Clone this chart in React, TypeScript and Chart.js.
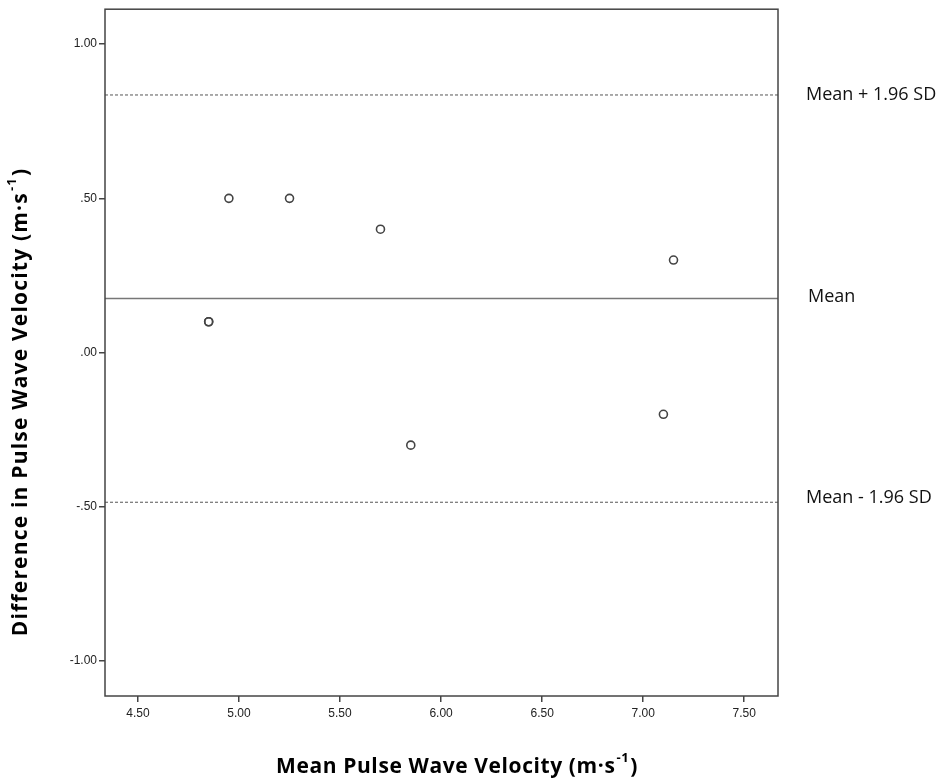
import React, { useEffect, useRef } from "react";
import { Chart, registerables } from "chart.js";

Chart.register(...registerables);

const meanPWV = [4.85, 4.85, 4.95, 5.25, 5.7, 5.85, 7.1, 7.15];
const diffPWV = [0.1, 0.1, 0.5, 0.5, 0.4, -0.3, -0.2, 0.3];
const meanDiff = 0.175;
const upperLoA = 0.835;
const lowerLoA = -0.485;
const xTicks = [4.5, 5.0, 5.5, 6.0, 6.5, 7.0, 7.5];
const yTicks = [-1.0, -0.5, 0.0, 0.5, 1.0];
const xRange = [4.337, 7.667];
const yRange = [-1.113, 1.113];
const refLabels = ["Mean + 1.96 SD", "Mean", "Mean - 1.96 SD"];
const xTitle = ["Mean Pulse Wave Velocity (m·s", "-1", ")"];
const yTitle = ["Difference in Pulse Wave Velocity (m·s", "-1", ")"];

function fmtY(v: number) {
  const s = Math.abs(v).toFixed(2).replace(/^0/, "");
  return (v < 0 ? "-" : "") + s;
}

function drawRich(ctx: CanvasRenderingContext2D, parts: string[], cx: number, cy: number, size: number, family: string, spacing: number) {
  const main = `bold ${size}px ${family}`;
  const sup = `bold ${Math.round(size * 0.62)}px ${family}`;
  (ctx as any).letterSpacing = spacing + "px";
  ctx.font = main;
  const w0 = ctx.measureText(parts[0]).width;
  const w2 = ctx.measureText(parts[2]).width;
  ctx.font = sup;
  const w1 = ctx.measureText(parts[1]).width;
  const total = w0 + w1 + w2 + 2;
  let x = cx - total / 2;
  ctx.textBaseline = "middle";
  ctx.textAlign = "left";
  ctx.font = main;
  ctx.fillText(parts[0], x, cy);
  x += w0;
  ctx.font = sup;
  ctx.fillText(parts[1], x + 1, cy - size * 0.4);
  x += w1 + 2;
  ctx.font = main;
  ctx.fillText(parts[2], x, cy);
  (ctx as any).letterSpacing = "0px";
}

const decorPlugin = {
  id: "decor",
  afterDraw(chart: any) {
    const { ctx, chartArea, scales } = chart;
    ctx.save();
    ctx.strokeStyle = "#444";
    ctx.lineWidth = 1.5;
    ctx.strokeRect(chartArea.left, chartArea.top, chartArea.right - chartArea.left, chartArea.bottom - chartArea.top);

    ctx.fillStyle = "#111";
    ctx.font = "18px 'Open Sans'";
    ctx.textAlign = "left";
    ctx.textBaseline = "middle";
    const ys = [upperLoA, meanDiff, lowerLoA];
    const xs = [806, 808, 806];
    const off = [0, -2, -4];
    ys.forEach((v, i) => {
      ctx.fillText(refLabels[i], xs[i], scales.y.getPixelForValue(v) + off[i]);
    });

    ctx.fillStyle = "#000";
    drawRich(ctx, xTitle, 457, 767, 21, "'Open Sans'", 0.6);
    ctx.save();
    ctx.translate(21, 402);
    ctx.rotate(-Math.PI / 2);
    drawRich(ctx, yTitle, 0, 0, 21, "'Open Sans'", 1.2);
    ctx.restore();
    ctx.restore();
  },
};

export default function App() {
  const ref = useRef<HTMLCanvasElement | null>(null);
  useEffect(() => {
    if (!ref.current) return;
    const line = (v: number, dash: number[], color: string, width: number) => ({
      type: "scatter" as const,
      data: [
        { x: xRange[0], y: v },
        { x: xRange[1], y: v },
      ],
      showLine: true,
      borderColor: color,
      borderWidth: width,
      borderDash: dash,
      pointRadius: 0,
      fill: false,
    });
    const chart = new Chart(ref.current, {
      type: "scatter",
      data: {
        datasets: [
          {
            data: meanPWV.map((x, i) => ({ x, y: diffPWV[i] })),
            pointRadius: 4,
            pointBorderWidth: 1.6,
            pointBorderColor: "#444",
            pointBackgroundColor: "rgba(255,255,255,0)",
          },
          line(upperLoA, [3, 2], "#555", 1),
          line(meanDiff, [], "#777", 1.5),
          line(lowerLoA, [3, 2], "#555", 1),
        ] as any,
      },
      options: {
        animation: false,
        responsive: false,
        devicePixelRatio: 1,
        layout: { padding: { top: 7, right: 163, left: 0, bottom: 0 } },
        plugins: { legend: { display: false }, tooltip: { enabled: false } },
        scales: {
          x: {
            type: "linear",
            min: xRange[0],
            max: xRange[1],
            afterBuildTicks: (s: any) => {
              s.ticks = xTicks.map((v) => ({ value: v }));
            },
            afterFit: (s: any) => {
              s.height = 84;
            },
            border: { display: false },
            grid: { drawOnChartArea: false, drawTicks: true, tickLength: 6, color: "#444", lineWidth: 1.5 },
            ticks: {
              padding: 4,
              color: "#222",
              font: { family: "'Liberation Sans'", size: 12 },
              callback: (v: any) => Number(v).toFixed(2),
            },
          },
          y: {
            type: "linear",
            min: yRange[0],
            max: yRange[1],
            afterBuildTicks: (s: any) => {
              s.ticks = yTicks.map((v) => ({ value: v }));
            },
            afterFit: (s: any) => {
              s.width = 105;
            },
            border: { display: false },
            grid: { drawOnChartArea: false, drawTicks: true, tickLength: 6, color: "#444", lineWidth: 1.5 },
            ticks: {
              padding: 2,
              color: "#222",
              font: { family: "'Liberation Sans'", size: 12 },
              callback: (v: any) => fmtY(Number(v)),
            },
          },
        },
      } as any,
      plugins: [decorPlugin],
    });
    return () => chart.destroy();
  }, []);
  return (
    <div style={{ position: "fixed", left: 0, top: 0, width: 941, height: 780, background: "#fff" }}>
      <canvas ref={ref} width={941} height={780} style={{ width: 941, height: 780 }} />
    </div>
  );
}
